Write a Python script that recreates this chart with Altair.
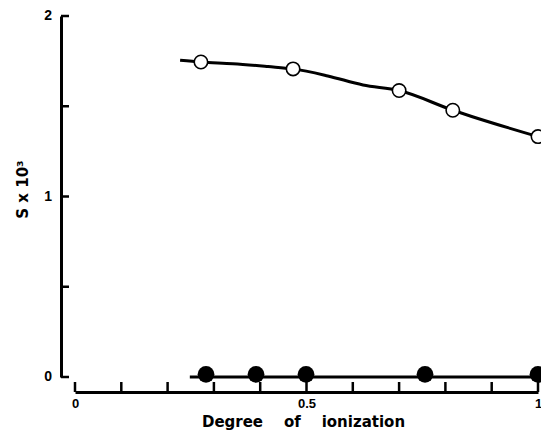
import altair as alt
import pandas as pd

# open circles (upper series)
open_x = [0.272, 0.471, 0.700, 0.816, 1.0]
open_y = [1.745, 1.707, 1.587, 1.478, 1.332]
# hand-drawn curve through the open circles
curve_x = [0.227, 0.272, 0.341, 0.417, 0.471, 0.546, 0.622, 0.700, 0.816, 1.0]
curve_y = [1.755, 1.745, 1.736, 1.720, 1.707, 1.668, 1.618, 1.587, 1.478, 1.332]
# filled circles (lower series)
filled_x = [0.283, 0.391, 0.499, 0.756, 1.0]
filled_y = [0.015, 0.015, 0.015, 0.015, 0.015]
# line under the filled circles
flat_x = [0.248, 1.0]
flat_y = [0.0, 0.0]
# tick positions and labels
x_ticks = [0.0, 0.1, 0.2, 0.3, 0.4, 0.5, 0.6, 0.7, 0.8, 0.9, 1.0]
x_labels = [0.0, 0.5, 1.0]
y_ticks = [0.0, 0.5, 1.0, 1.5, 2.0]
y_label_values = [0.0, 1.0, 2.0]
y_label_texts = ["0", "1", "2"]

W, H = 463, 361
XOFF, YOFF = 15, 14

xs = alt.Scale(domain=[0, 1], nice=False, zero=False)
ys = alt.Scale(domain=[0, 2], nice=False, zero=False)

NB = "\u00a0" * 4
xaxis = alt.Axis(
    values=x_labels,
    labelExpr="datum.value == 0 ? '0' : datum.value == 1 ? '1' : format(datum.value, '.1f')",
    grid=False, ticks=False, tickSize=0, domainWidth=3, domainColor="black",
    offset=XOFF, labelPadding=5, labelFlush=False, labelOverlap=False,
    labelFont="Liberation Sans", labelFontWeight="bold",
    labelFontSize=13, labelColor="black",
    title="Degree" + NB + "of" + NB + "ionization",
    titleFont="DejaVu Sans", titleFontWeight="bold", titleFontSize=15, titleColor="black",
    titleX=228, titleY=29, titleBaseline="middle", titleAnchor="middle", titleAlign="center",
)
yaxis = alt.Axis(
    values=y_label_values, labels=False, grid=False, ticks=False, tickSize=0, domainWidth=3,
    domainColor="black", offset=YOFF,
    title="S x 10\u00b3", titleFont="DejaVu Sans", titleFontWeight="bold", titleFontSize=15,
    titleColor="black", titleX=-34, titleY=173, titleBaseline="alphabetic", titleAngle=270,
)

X = alt.X("x:Q", scale=xs, axis=xaxis)
Y = alt.Y("y:Q", scale=ys, axis=yaxis)

curve = alt.Chart(pd.DataFrame({"x": curve_x, "y": curve_y})).mark_line(
    interpolate="monotone", color="black", strokeWidth=3
).encode(x=X, y=Y)

flat = alt.Chart(pd.DataFrame({"x": flat_x, "y": flat_y})).mark_line(
    color="black", strokeWidth=3
).encode(x=X, y=Y)

opens = alt.Chart(pd.DataFrame({"x": open_x, "y": open_y})).mark_point(
    shape="circle", filled=False, fill="white", fillOpacity=1, stroke="black",
    strokeWidth=1.6, size=180, opacity=1
).encode(x=X, y=Y)

filled = alt.Chart(pd.DataFrame({"x": filled_x, "y": filled_y})).mark_circle(
    color="black", size=280, opacity=1
).encode(x=X, y=Y)

xt = alt.Chart(pd.DataFrame({"x": x_ticks})).mark_rule(
    color="black", strokeWidth=2.5
).encode(x=X, y=alt.value(H + XOFF), y2=alt.value(H + XOFF - 10))

yt = alt.Chart(pd.DataFrame({"y": y_ticks})).mark_rule(
    color="black", strokeWidth=2.5
).encode(y=Y, x=alt.value(-YOFF), x2=alt.value(-YOFF + 8))

ylab = alt.Chart(pd.DataFrame({"y": y_label_values, "t": y_label_texts})).mark_text(
    align="right", baseline="middle", font="Liberation Sans", fontWeight="bold",
    fontSize=14, color="black"
).encode(y=Y, x=alt.value(-YOFF - 9), text="t:N")

chart = alt.layer(curve, flat, xt, yt, opens, filled, ylab).properties(
    width=W, height=H, autosize="none",
    padding={"left": 67, "top": 8, "right": 3, "bottom": 53},
    background="white",
).configure_view(stroke=None)

chart.save("out.html", embed_options={"renderer": "svg", "actions": False})
